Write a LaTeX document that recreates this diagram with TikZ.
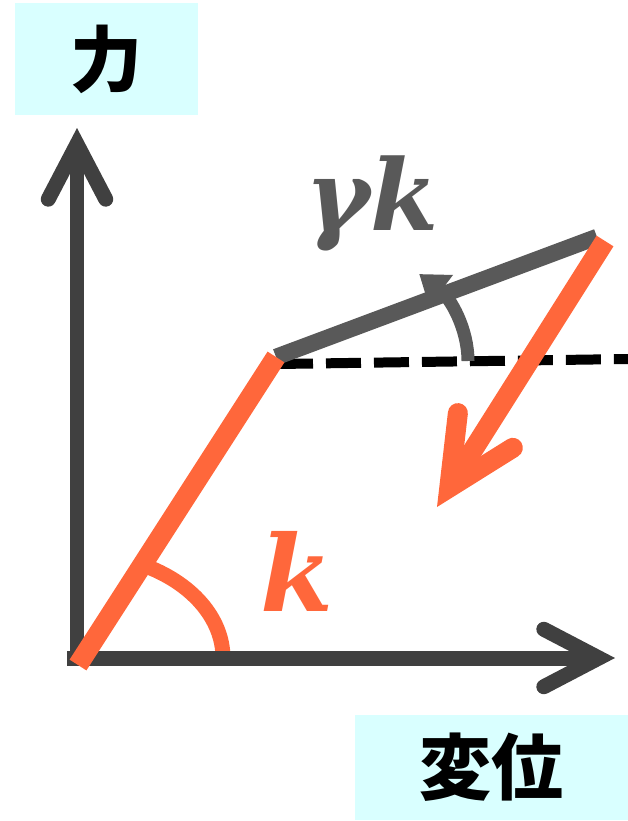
\documentclass[tikz,border=0pt]{standalone}
\usepackage{fontspec}
\newfontfamily\jpfont{Noto Sans CJK JP}
\newfontfamily\symfont{DejaVu Serif}
\usetikzlibrary{arrows.meta}
\definecolor{axisgray}{RGB}{64,64,64}
\definecolor{linegray}{RGB}{89,89,89}
\definecolor{springorange}{RGB}{255,103,59}
\definecolor{labelcyan}{RGB}{217,255,255}

\begin{document}
\begin{tikzpicture}[x=0.02cm, y=-0.02cm,
	axis/.style={axisgray, line width=0.3cm, -{Straight Barb[length=1.1cm, width=1.15cm, line width=0.3cm, line cap=round, line join=miter]}},
	axislabel/.style={fill=labelcyan, inner sep=0pt, font=\jpfont\bfseries\fontsize{41}{41}\selectfont},
	spring/.style={springorange, line width=0.4cm},
	symbol/.style={inner sep=0pt, font=\symfont\bfseries\itshape\fontsize{#1}{#1}\selectfont}]
	\useasboundingbox (0,0) rectangle (628,821);
	\node[axislabel, minimum width=3.66cm, minimum height=2.24cm] (force) at (106.5,59) {力};
	\node[axislabel, minimum width=5.46cm, minimum height=2.1cm] (disp) at (491.5,767.5) {変位};
	\coordinate (O) at (77,666);
	\coordinate (ytip) at (77,128);
	\coordinate (xstart) at (67,658);
	\coordinate (xtip) at (615,658);
	\coordinate (base) at (78,665);
	\coordinate (B) at (276,357);
	\coordinate (C) at (597,237);
	\coordinate (Cs) at (605,241);
	\coordinate (A) at (437,507);
	\coordinate (D0) at (278,364);
	\coordinate (D1) at (628,359);
	\draw[springorange, line width=0.3cm] (223,658) arc[start angle=0, end angle=64, x radius=2.9cm, y radius=2.08cm];
	\draw[axis] (O) -- (ytip);
	\draw[axis] (xstart) -- (xtip);
	\draw[black, line width=0.2cm, dash pattern=on 0.7cm off 0.26cm] (D0) -- (D1);
	\draw[linegray, line width=0.26cm, -{Triangle[length=0.55cm, width=0.75cm]}] (468,361) arc[start angle=0, end angle=42, x radius=3.8cm, y radius=2.6cm];
	\draw[linegray, line width=0.33cm] (B) -- (C);
	\draw[spring] (base) -- (B);
	\draw[spring, -{Straight Barb[length=1.35cm, width=1.3cm, line width=0.4cm, line cap=round, line join=miter]}] (Cs) -- (A);
	\node[symbol=60, text=springorange] (klabel) at (297,571) {k};
	\node[symbol=56, text=linegray] (gklabel) at (372,203) {γk};
\end{tikzpicture}
\end{document}
